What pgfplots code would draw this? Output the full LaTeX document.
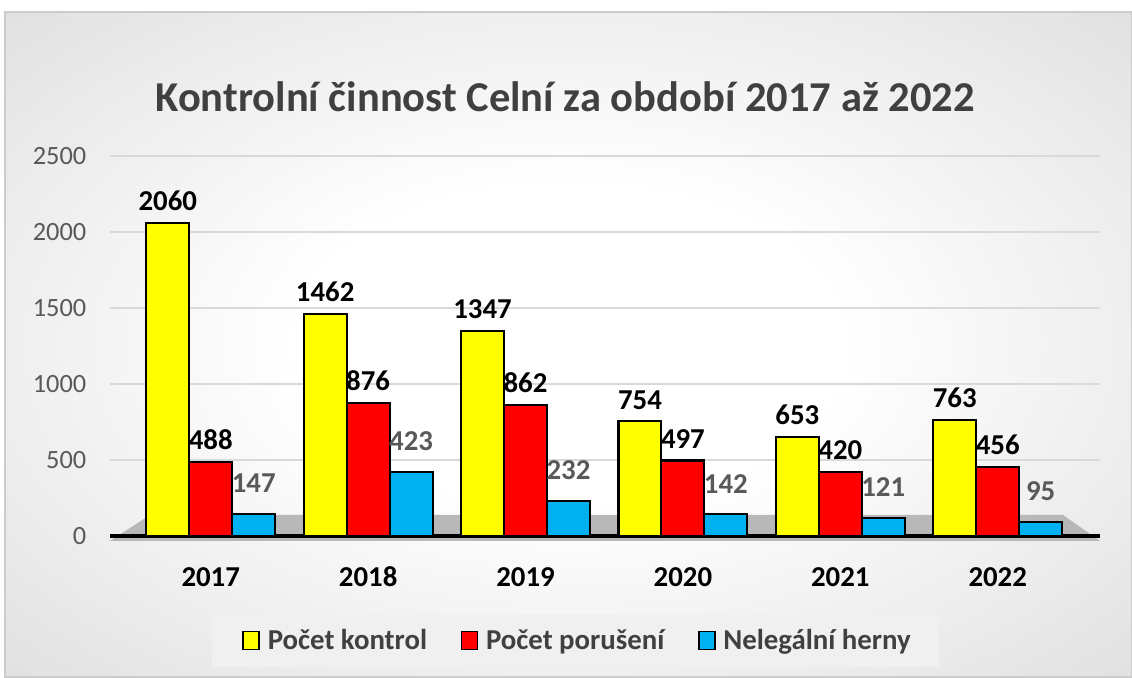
\documentclass[border=0pt]{standalone}
\usepackage{pgfplots}
\pgfplotsset{compat=1.18}
\usepackage{fontspec}
\setmainfont{Carlito}
\definecolor{cyel}{HTML}{FFFF00}
\definecolor{cred}{HTML}{FF0000}
\definecolor{cblue}{HTML}{00B0F0}
\definecolor{ctitle}{HTML}{404040}
\definecolor{ctick}{HTML}{595959}
\pgfdeclareradialshading{bgshade}{\pgfpoint{0bp}{0bp}}{color(0bp)=(white); color(12bp)=(white); color(72bp)=(black!30)}
\begin{document}
\begin{tikzpicture}
\path[use as bounding box] (0,0) rectangle (22.64cm,13.54cm);
\shade[shading=bgshade] (0.1cm,0) rectangle (22.64cm,13.3cm);
\draw[black!20, line width=0.6pt] (0.1cm,0) rectangle (22.64cm,13.3cm);
\node[font=\bfseries\fontsize{24.2}{28}\selectfont, text=ctitle] at (11.3cm,11.6cm) {Kontrolní činnost Celní za období 2017 až 2022};
\fill[black!6] (4.24cm,0.2cm) rectangle (18.78cm,1.24cm);
\fill[black!28] (2.2cm,2.72cm) -- (22.0cm,2.72cm) -- (21.26cm,3.24cm) -- (3.0cm,3.24cm) -- cycle;
\begin{axis}[
  at={(2.2cm,2.82cm)}, anchor=south west,
  scale only axis, width=19.8cm, height=7.6cm,
  xmin=-0.64, xmax=5.65, ymin=0, ymax=2500,
  ybar=0pt, bar width=0.273,
  xtick={0,...,5}, xticklabels={2017,2018,2019,2020,2021,2022},
  ytick={0,500,...,2500},
  ymajorgrids, grid style={draw=black!15, line width=1pt},
  axis lines*=left,
  y axis line style={draw=none},
  x axis line style={black, line width=2pt, -},
  major tick length=0pt,
  /pgf/number format/1000 sep={},
  yticklabel style={font=\fontsize{15}{17}\selectfont, text=ctick, xshift=-10pt},
  xticklabel style={font=\bfseries\fontsize{16.4}{19}\selectfont, text=black, anchor=base, yshift=-29pt},
  /pgf/number format/assume math mode=true,
  nodes near coords,
  nodes near coords style={font=\bfseries\fontsize{16.4}{19}\selectfont, yshift=3pt},
  legend style={at={(0.473,-0.276)}, anchor=center, legend columns=3, draw=none, fill=none,
    font=\bfseries\fontsize{16.4}{19}\selectfont, text=ctitle,
    /tikz/every even column/.append style={column sep=17pt}},
  legend image code/.code={\draw[#1, line width=1pt] (0cm,-0.17cm) rectangle (0.32cm,0.19cm); \path (0.4cm,0);},
]
\addplot[fill=cyel, draw=black, line width=1.2pt, nodes near coords style={text=black}] coordinates {(0,2060) (1,1462) (2,1347) (3,754) (4,653) (5,763)};
\addplot[fill=cred, draw=black, line width=1.2pt, nodes near coords style={text=black}] coordinates {(0,488) (1,876) (2,862) (3,497) (4,420) (5,456)};
\addplot[fill=cblue, draw=black, line width=1.2pt, nodes near coords style={text=ctick, yshift=5pt}] coordinates {(0,147) (1,423) (2,232) (3,142) (4,121) (5,95)};
\legend{Počet kontrol, Počet porušení, Nelegální herny}
\end{axis}
\end{tikzpicture}
\end{document}
